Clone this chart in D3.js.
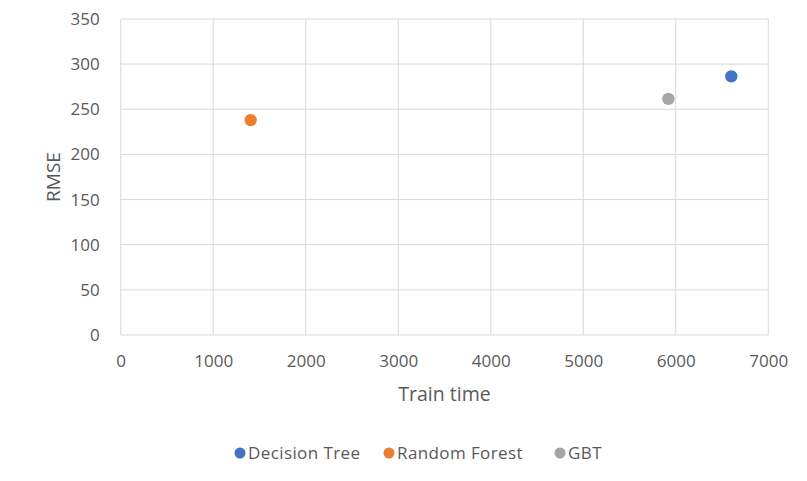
<!DOCTYPE html>
<html lang="en">
<head>
    <meta charset="UTF-8">
    <title>RMSE vs Train time</title>
    <style>
        body { margin: 0; background: #fff; }
        text { font-family: "Open Sans", sans-serif; fill: #595959; }
    </style>
</head>
<body>
    <div id="graphic"></div>

    <script src="https://cdn.jsdelivr.net/npm/d3@7"></script>
    <script>
        var width = 807;
        var height = 481;

        // data
        var models = ['Decision Tree', 'Random Forest', 'GBT'];
        var trainTime = [6600, 1405, 5920];
        var rmse = [286.5, 238, 261.5];
        var colors = ['#4472C4', '#ED7D31', '#A5A5A5'];
        var xTicks = [0, 1000, 2000, 3000, 4000, 5000, 6000, 7000];
        var yTicks = [0, 50, 100, 150, 200, 250, 300, 350];

        var margin = {left: 120.7, right: 807 - 768.3, top: 19, bottom: 481 - 335};

        var x = d3.scaleLinear().domain([0, 7000]).range([margin.left, width - margin.right]);
        var y = d3.scaleLinear().domain([0, 350]).range([height - margin.bottom, margin.top]);

        var svg = d3.select('#graphic')
            .append('svg')
            .attr('width', width)
            .attr('height', height);

        // gridlines
        svg.append('g')
            .selectAll('line')
            .data(xTicks)
            .join('line')
            .attr('x1', function(d) { return x(d); })
            .attr('x2', function(d) { return x(d); })
            .attr('y1', y(0))
            .attr('y2', y(350))
            .attr('stroke', '#d9d9d9')
            .attr('stroke-width', 1);

        svg.append('g')
            .selectAll('line')
            .data(yTicks)
            .join('line')
            .attr('x1', x(0))
            .attr('x2', x(7000))
            .attr('y1', function(d) { return y(d); })
            .attr('y2', function(d) { return y(d); })
            .attr('stroke', '#d9d9d9')
            .attr('stroke-width', 1);

        // axes (labels only)
        var xAxis = svg.append('g')
            .attr('transform', 'translate(0,' + (y(0) + 26) + ')')
            .call(d3.axisBottom(x).tickValues(xTicks).tickSize(0).tickFormat(d3.format('d')));
        xAxis.select('.domain').remove();
        xAxis.selectAll('text').style('font-size', '17px').attr('y', 0).attr('dy', '0.35em');

        var yAxis = svg.append('g')
            .attr('transform', 'translate(' + (x(0) - 18) + ',0)')
            .call(d3.axisLeft(y).tickValues(yTicks).tickSize(0));
        yAxis.select('.domain').remove();
        yAxis.selectAll('text').style('font-size', '17px');

        // axis titles
        svg.append('text')
            .attr('x', (x(0) + x(7000)) / 2)
            .attr('y', 401)
            .attr('text-anchor', 'middle')
            .style('font-size', '19.5px')
            .text('Train time');

        svg.append('text')
            .attr('transform', 'translate(60,' + ((y(0) + y(350)) / 2) + ') rotate(-90)')
            .attr('text-anchor', 'middle')
            .style('font-size', '19px')
            .text('RMSE');

        // points
        svg.append('g')
            .selectAll('circle')
            .data(models)
            .join('circle')
            .attr('cx', function(d, i) { return x(trainTime[i]); })
            .attr('cy', function(d, i) { return y(rmse[i]); })
            .attr('r', 6.2)
            .attr('fill', function(d, i) { return colors[i]; });

        // legend
        var legendX = [240, 389, 560];
        var legend = svg.append('g')
            .selectAll('g')
            .data(models)
            .join('g')
            .attr('transform', function(d, i) { return 'translate(' + legendX[i] + ',453)'; });

        legend.append('circle')
            .attr('r', 5.5)
            .attr('fill', function(d, i) { return colors[i]; });

        legend.append('text')
            .attr('x', 8)
            .attr('dy', '0.35em')
            .style('font-size', '17px')
            .style('letter-spacing', '0.4px')
            .text(function(d) { return d; });
    </script>
</body>
</html>
